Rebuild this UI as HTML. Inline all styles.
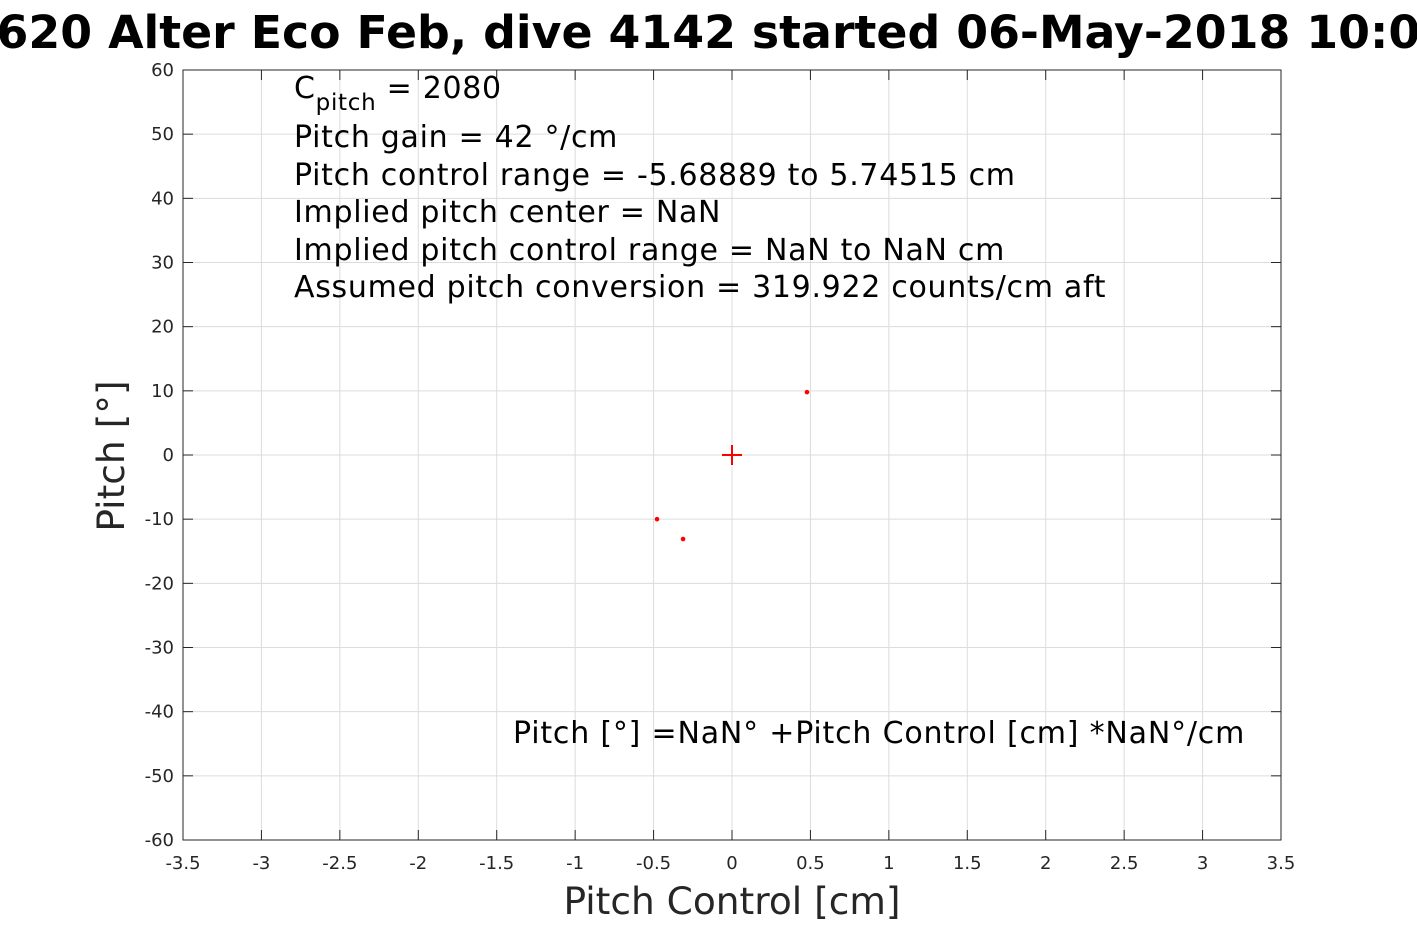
<!DOCTYPE html>
<html><head><meta charset="utf-8"><style>
body{margin:0;background:#fff;width:1417px;height:945px;overflow:hidden;font-family:"DejaVu Sans","Liberation Sans",sans-serif;}
svg{display:block}
</style></head><body>
<svg id="chart" width="1417" height="945" font-family="DejaVu Sans, Liberation Sans, sans-serif">
<text x="689" y="48" text-anchor="middle" font-size="45.8" font-weight="bold">SG620 Alter Eco Feb, dive 4142 started 06-May-2018 10:00</text>
<g id="grid"></g>
<rect x="183" y="70" width="1098" height="770" fill="none" stroke="#262626" stroke-width="1"/>
<g id="ticks" font-size="18" fill="#262626"></g>
<g id="marks"></g>
<text x="732" y="914" text-anchor="middle" font-size="37.5" fill="#262626">Pitch Control [cm]</text>
<text transform="translate(124,456) rotate(-90)" text-anchor="middle" font-size="37.5" fill="#262626">Pitch [°]</text>
<g font-size="30" fill="#000" letter-spacing="0.7">
<text x="294" y="98">C<tspan font-size="23" dy="12">pitch</tspan><tspan dy="-12"> = 2080</tspan></text>
<text x="294" y="147">Pitch gain = 42 °/cm</text>
<text x="294" y="185">Pitch control range = -5.68889 to 5.74515 cm</text>
<text x="294" y="222">Implied pitch center = NaN</text>
<text x="294" y="260">Implied pitch control range = NaN to NaN cm</text>
<text x="294" y="297">Assumed pitch conversion = 319.922 counts/cm aft</text>
<text x="513" y="743" letter-spacing="0.8">Pitch [°] =NaN° +Pitch Control [cm] *NaN°/cm</text>
</g>
</svg>
<script>
const xTicks=[-3.5,-3,-2.5,-2,-1.5,-1,-0.5,0,0.5,1,1.5,2,2.5,3,3.5];
const yTicks=[-60,-50,-40,-30,-20,-10,0,10,20,30,40,50,60];
const ptX=[0.478,-0.478,-0.312];
const ptY=[9.8,-10,-13.1];
const centerX=[0];const centerY=[0];
const L=183,R=1281,T=70,B=840;
const sx=v=>L+(v+3.5)/7*(R-L);
const sy=v=>B-(v+60)/120*(B-T);
const NS='http://www.w3.org/2000/svg';
function mk(t,a,p){const e=document.createElementNS(NS,t);for(const k in a)e.setAttribute(k,a[k]);p.appendChild(e);return e;}
const g=document.getElementById('grid'),tk=document.getElementById('ticks'),m=document.getElementById('marks');
xTicks.forEach(v=>{const x=sx(v);
 const l=mk('line',{x1:x,x2:x,y1:T,y2:B,stroke:'#dcdcdc','stroke-width':1},g);
 
 
 mk('line',{x1:x,x2:x,y1:B,y2:B-10,stroke:'#262626'},tk);mk('line',{x1:x,x2:x,y1:T,y2:T+10,stroke:'#262626'},tk);
 const t=mk('text',{x:x,y:869,'text-anchor':'middle'},tk);t.textContent=String(v);
 
 });
yTicks.forEach(v=>{const y=sy(v);
 const l=mk('line',{x1:L,x2:R,y1:y,y2:y,stroke:'#dcdcdc','stroke-width':1},g);
 
 
 mk('line',{x1:L,x2:L+10,y1:y,y2:y,stroke:'#262626'},tk);mk('line',{x1:R,x2:R-10,y1:y,y2:y,stroke:'#262626'},tk);
 const t=mk('text',{x:174,y:y+6,'text-anchor':'end'},tk);t.textContent=String(v);
 
 });
ptX.forEach((v,i)=>{const c=mk('circle',{cx:sx(v),cy:sy(ptY[i]),r:2.3,fill:'#ff0000'},m);
 
 });
centerX.forEach((v,i)=>{const x=sx(v),y=sy(centerY[i]);
 const p=mk('path',{d:`M${x-10},${y}H${x+10}M${x},${y-10}V${y+10}`,stroke:'#ff0000','stroke-width':2},m);
 
 });
</script>
</body></html>
